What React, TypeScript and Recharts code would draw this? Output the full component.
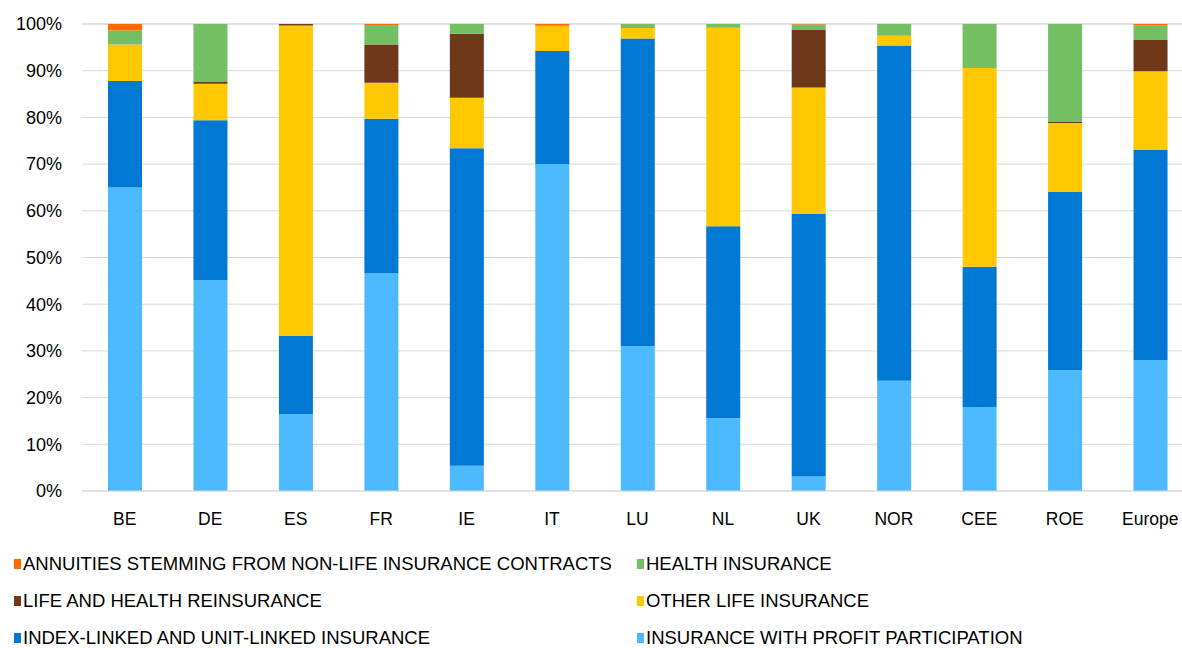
import React from 'react';
import { BarChart, Bar, XAxis, YAxis, CartesianGrid } from 'recharts';

const countries = ['BE', 'DE', 'ES', 'FR', 'IE', 'IT', 'LU', 'NL', 'UK', 'NOR', 'CEE', 'ROE', 'Europe'];

// shares in %, one value per country
const profitParticipation = [65, 45.2, 16.5, 46.7, 5.4, 70, 31, 15.6, 3.1, 23.6, 18, 25.9, 28];
const indexLinked = [22.8, 34.2, 16.7, 33, 68, 24.2, 65.9, 41.1, 56.2, 71.8, 30, 38.1, 45];
const otherLife = [7.8, 7.8, 66.5, 7.7, 10.8, 5.4, 2.3, 42.5, 27.1, 2.1, 42.6, 14.8, 16.9];
const reinsurance = [0, 0.5, 0.3, 8.2, 13.7, 0, 0.1, 0, 12.4, 0, 0, 0.2, 6.7];
const health = [3, 12.3, 0, 4.2, 2.1, 0, 0.7, 0.8, 1.1, 2.5, 9.4, 21, 3.1];
const annuities = [1.4, 0, 0, 0.2, 0, 0.4, 0, 0, 0.1, 0, 0, 0, 0.3];

const yTicks = [0, 10, 20, 30, 40, 50, 60, 70, 80, 90, 100];

const series = [
  { key: 'profit', name: 'INSURANCE WITH PROFIT PARTICIPATION', color: '#4DBAFF', values: profitParticipation },
  { key: 'index', name: 'INDEX-LINKED AND UNIT-LINKED INSURANCE', color: '#0078D4', values: indexLinked },
  { key: 'other', name: 'OTHER LIFE INSURANCE', color: '#FFC800', values: otherLife },
  { key: 'reins', name: 'LIFE AND HEALTH REINSURANCE', color: '#6E3819', values: reinsurance },
  { key: 'health', name: 'HEALTH INSURANCE', color: '#75BF63', values: health },
  { key: 'annuities', name: 'ANNUITIES STEMMING FROM NON-LIFE INSURANCE CONTRACTS', color: '#FF6A00', values: annuities },
];

const data = countries.map((c, i) => {
  const row: any = { name: c };
  series.forEach((s) => (row[s.key] = s.values[i]));
  return row;
});

const font = "'Liberation Sans', Arial, sans-serif";

// legend reads top-down from the top of the stack
const legendOrder = [...series].reverse();

const App = () => {
  return (
    <div style={{ position: 'absolute', left: 0, top: 0, width: 1182, height: 648, overflow: 'hidden', background: '#fff', fontFamily: font }}>
      <BarChart
        width={1200}
        height={648}
        data={data}
        barSize={34}
        margin={{ top: 24, right: 7, left: 0, bottom: 127 }}
      >
        <CartesianGrid vertical={false} stroke="#D9D9D9" />
        <XAxis
          dataKey="name"
          height={30}
          tickLine={false}
          stroke="#D9D9D9"
          tickMargin={16}
          tick={{ fill: '#000', fontSize: 17.5, fontFamily: font }}
        />
        <YAxis
          width={82}
          domain={[0, 100]}
          ticks={yTicks}
          tickFormatter={(v) => `${v}%`}
          axisLine={false}
          tickLine={false}
          tickMargin={14}
          tick={{ fill: '#000', fontSize: 18, fontFamily: font }}
        />
        {series.map((s) => (
          <Bar
            key={s.key}
            dataKey={s.key}
            name={s.name}
            stackId="a"
            fill={s.color}
            isAnimationActive={false}
          />
        ))}
      </BarChart>
      {legendOrder.map((s, i) => {
        const col = i % 2;
        const row = Math.floor(i / 2);
        return (
          <div
            key={s.key}
            style={{
              position: 'absolute',
              left: col === 0 ? 14 : 637,
              top: 554 + row * 37,
              display: 'flex',
              alignItems: 'center',
              fontSize: 18.5,
              lineHeight: '20px',
              color: '#000',
              whiteSpace: 'nowrap',
            }}
          >
            <span style={{ width: 7, height: 10, background: s.color, display: 'inline-block', marginRight: 2 }} />
            {s.name}
          </div>
        );
      })}
    </div>
  );
};

export default App;
